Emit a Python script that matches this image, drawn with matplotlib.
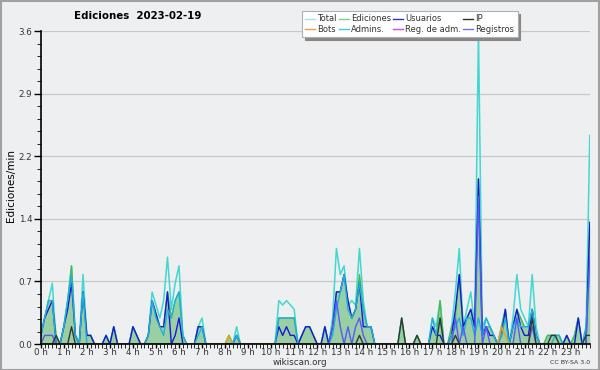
import matplotlib
matplotlib.use('Agg')
import matplotlib.pyplot as plt
import matplotlib.transforms as mtransforms
from matplotlib.patches import Rectangle
import numpy as np

# 10-minute samples, one row per hour (edits/min)
total = [
    0.1, 0.3, 0.5, 0.7, 0.0, 0.0,
    0.2, 0.5, 0.9, 0.1, 0.0, 0.8,
    0.1, 0.1, 0.0, 0.0, 0.0, 0.1,
    0.0, 0.2, 0.0, 0.0, 0.0, 0.0,
    0.2, 0.1, 0.0, 0.0, 0.1, 0.6,
    0.45, 0.3, 0.5, 1.0, 0.4, 0.7,
    0.9, 0.1, 0.0, 0.0, 0.0, 0.2,
    0.3, 0.0, 0.0, 0.0, 0.0, 0.0,
    0.0, 0.1, 0.0, 0.2, 0.0, 0.0,
    0.0, 0.0, 0.0, 0.0, 0.0, 0.0,
    0.0, 0.0, 0.5, 0.45, 0.5, 0.45,
    0.4, 0.0, 0.1, 0.2, 0.2, 0.1,
    0.0, 0.0, 0.2, 0.0, 0.3, 1.1,
    0.8, 0.9, 0.45, 0.5, 0.45, 1.1,
    0.5, 0.2, 0.2, 0.0, 0.0, 0.0,
    0.0, 0.0, 0.0, 0.0, 0.3, 0.0,
    0.0, 0.0, 0.1, 0.0, 0.0, 0.0,
    0.3, 0.2, 0.5, 0.0, 0.0, 0.2,
    0.6, 1.1, 0.2, 0.4, 0.6, 0.2,
    3.6, 0.2, 0.3, 0.2, 0.1, 0.0,
    0.2, 0.4, 0.0, 0.3, 0.8, 0.4,
    0.3, 0.2, 0.8, 0.2, 0.0, 0.0,
    0.1, 0.1, 0.1, 0.1, 0.0, 0.1,
    0.0, 0.1, 0.3, 0.0, 0.1, 2.4,
]
ediciones = [
    0.1, 0.3, 0.5, 0.5, 0.1, 0.0,
    0.2, 0.5, 0.9, 0.1, 0.0, 0.6,
    0.1, 0.1, 0.0, 0.0, 0.0, 0.1,
    0.0, 0.2, 0.0, 0.0, 0.0, 0.0,
    0.2, 0.1, 0.0, 0.0, 0.1, 0.5,
    0.35, 0.2, 0.2, 0.6, 0.3, 0.5,
    0.6, 0.1, 0.0, 0.0, 0.0, 0.2,
    0.2, 0.0, 0.0, 0.0, 0.0, 0.0,
    0.0, 0.1, 0.0, 0.1, 0.0, 0.0,
    0.0, 0.0, 0.0, 0.0, 0.0, 0.0,
    0.0, 0.0, 0.3, 0.3, 0.3, 0.3,
    0.3, 0.0, 0.1, 0.2, 0.2, 0.1,
    0.0, 0.0, 0.2, 0.0, 0.2, 0.6,
    0.6, 0.8, 0.5, 0.3, 0.4, 0.8,
    0.4, 0.2, 0.2, 0.0, 0.0, 0.0,
    0.0, 0.0, 0.0, 0.0, 0.3, 0.0,
    0.0, 0.0, 0.1, 0.0, 0.0, 0.0,
    0.2, 0.1, 0.5, 0.0, 0.0, 0.2,
    0.3, 0.8, 0.2, 0.3, 0.4, 0.2,
    1.9, 0.1, 0.2, 0.2, 0.1, 0.0,
    0.2, 0.4, 0.0, 0.2, 0.4, 0.3,
    0.2, 0.2, 0.4, 0.1, 0.0, 0.0,
    0.1, 0.1, 0.1, 0.1, 0.0, 0.1,
    0.0, 0.1, 0.3, 0.0, 0.1, 1.4,
]
usuarios = [
    0.1, 0.3, 0.4, 0.5, 0.0, 0.0,
    0.2, 0.4, 0.7, 0.1, 0.0, 0.6,
    0.1, 0.1, 0.0, 0.0, 0.0, 0.1,
    0.0, 0.2, 0.0, 0.0, 0.0, 0.0,
    0.2, 0.1, 0.0, 0.0, 0.1, 0.5,
    0.35, 0.2, 0.2, 0.6, 0.0, 0.1,
    0.3, 0.0, 0.0, 0.0, 0.0, 0.2,
    0.2, 0.0, 0.0, 0.0, 0.0, 0.0,
    0.0, 0.0, 0.0, 0.1, 0.0, 0.0,
    0.0, 0.0, 0.0, 0.0, 0.0, 0.0,
    0.0, 0.0, 0.2, 0.1, 0.2, 0.1,
    0.1, 0.0, 0.1, 0.2, 0.2, 0.1,
    0.0, 0.0, 0.2, 0.0, 0.2, 0.6,
    0.6, 0.8, 0.5, 0.3, 0.4, 0.7,
    0.2, 0.2, 0.2, 0.0, 0.0, 0.0,
    0.0, 0.0, 0.0, 0.0, 0.0, 0.0,
    0.0, 0.0, 0.0, 0.0, 0.0, 0.0,
    0.2, 0.1, 0.1, 0.0, 0.0, 0.1,
    0.4, 0.8, 0.2, 0.3, 0.4, 0.2,
    1.9, 0.1, 0.2, 0.1, 0.1, 0.0,
    0.1, 0.4, 0.0, 0.2, 0.4, 0.2,
    0.1, 0.1, 0.4, 0.1, 0.0, 0.0,
    0.0, 0.0, 0.0, 0.0, 0.0, 0.1,
    0.0, 0.0, 0.3, 0.0, 0.0, 1.4,
]
admins = [
    0.1, 0.3, 0.5, 0.5, 0.0, 0.0,
    0.2, 0.5, 0.8, 0.1, 0.0, 0.6,
    0.0, 0.0, 0.0, 0.0, 0.0, 0.0,
    0.0, 0.0, 0.0, 0.0, 0.0, 0.0,
    0.0, 0.0, 0.0, 0.0, 0.1, 0.5,
    0.3, 0.2, 0.1, 0.4, 0.3, 0.5,
    0.6, 0.1, 0.0, 0.0, 0.0, 0.1,
    0.2, 0.0, 0.0, 0.0, 0.0, 0.0,
    0.0, 0.0, 0.0, 0.1, 0.0, 0.0,
    0.0, 0.0, 0.0, 0.0, 0.0, 0.0,
    0.0, 0.0, 0.3, 0.3, 0.3, 0.3,
    0.3, 0.0, 0.0, 0.0, 0.0, 0.0,
    0.0, 0.0, 0.0, 0.0, 0.1, 0.4,
    0.6, 0.8, 0.4, 0.3, 0.4, 0.7,
    0.4, 0.2, 0.2, 0.0, 0.0, 0.0,
    0.0, 0.0, 0.0, 0.0, 0.0, 0.0,
    0.0, 0.0, 0.0, 0.0, 0.0, 0.0,
    0.3, 0.1, 0.3, 0.0, 0.0, 0.1,
    0.2, 0.3, 0.1, 0.3, 0.3, 0.1,
    0.3, 0.1, 0.3, 0.2, 0.1, 0.0,
    0.1, 0.3, 0.0, 0.2, 0.3, 0.2,
    0.2, 0.2, 0.4, 0.1, 0.0, 0.0,
    0.0, 0.0, 0.1, 0.1, 0.0, 0.0,
    0.0, 0.0, 0.0, 0.0, 0.2, 0.9,
]
ip = [0.0] * 144
for k, v in {4: 0.1, 8: 0.2, 83: 0.1, 94: 0.3, 98: 0.1, 104: 0.3, 108: 0.1,
             128: 0.3, 133: 0.1, 134: 0.1, 142: 0.1, 143: 0.1}.items():
    ip[k] = v
bots = [0.0] * 144
for k, v in {49: 0.1, 120: 0.2, 121: 0.1}.items():
    bots[k] = v
registros = [0.0] * 144
for k, v in {1: 0.1, 2: 0.1, 3: 0.1, 76: 0.2, 77: 0.5, 78: 0.2, 80: 0.2, 82: 0.2,
             83: 0.3, 84: 0.1, 108: 0.3, 110: 0.2, 114: 1.7, 116: 0.2, 124: 0.3,
             128: 0.2, 143: 1.0}.items():
    registros[k] = v
reg_adm = [0.0] * 144

hours = np.arange(144) / 6.0
hour_labels = [f'{h} h' for h in range(24)]
ytick_vals = [0, 0.72, 1.44, 2.16, 2.88, 3.6]
ytick_labels = ['0.0', '0.7', '1.4', '2.2', '2.9', '3.6']

BG = '#eeeff1'
fig = plt.figure(figsize=(6, 3.7), dpi=100, facecolor=BG)
ax = fig.add_axes([0.068, 0.070, 0.915, 0.846], facecolor=BG)

ax.fill_between(hours, ediciones, color='#6cbf78', alpha=0.65, lw=0, zorder=2)
ax.plot(hours, total, color='#40d8d0', lw=1.1, zorder=3)
ax.plot(hours, ediciones, color='#50b850', lw=1.0, zorder=3)
ax.plot(hours, usuarios, color='#1818d8', lw=1.0, zorder=4)
ax.plot(hours, admins, color='#20b0e0', lw=1.0, zorder=4)
ax.plot(hours, registros, color='#5858f8', lw=1.0, zorder=4)
ax.plot(hours, ip, color='#303830', lw=1.0, zorder=4)
ax.plot(hours, bots, color='#f0a020', lw=1.0, zorder=4)
ax.plot(hours, reg_adm, color='#d040d0', lw=1.0, zorder=1)

ax.set_xlim(0, hours[-1])
ax.set_ylim(0, 3.6)
ax.set_yticks(ytick_vals)
ax.set_yticklabels(ytick_labels)
ax.set_yticks(np.arange(0, 3.6001, 0.144), minor=True)
ax.set_xticks(range(24))
ax.set_xticklabels(hour_labels)
ax.set_xticks(hours, minor=True)
offset = mtransforms.ScaledTranslation(3 / 100, 0, fig.dpi_scale_trans)
for lab in ax.get_xticklabels():
    lab.set_ha('center')
    lab.set_transform(lab.get_transform() + offset)

ax.tick_params(axis='both', colors='black', labelcolor='#333333', labelsize=6.3, width=1)
ax.tick_params(axis='x', which='both', length=3, pad=0)
ax.tick_params(axis='y', which='major', length=5, pad=1)
ax.tick_params(axis='y', which='minor', length=3)
ax.grid(axis='y', color='#c8c8c8', lw=0.9, zorder=0)
for s in ['top', 'right']:
    ax.spines[s].set_visible(False)
for s in ['left', 'bottom']:
    ax.spines[s].set_linewidth(1.2)
    ax.spines[s].set_zorder(6)

fig.text(0.018, 0.5, 'Ediciones/min', fontsize=7.5, rotation=90, ha='center', va='center')
fig.text(0.124, 0.957, 'Ediciones  2023-02-19', fontsize=7.4, fontweight='bold', va='center')
fig.text(0.5, 0.020, 'wikiscan.org', fontsize=6.3, ha='center', va='center', color='#333333')
fig.text(0.983, 0.020, 'CC BY-SA 3.0', fontsize=4.5, ha='right', va='center', color='#333333')

handles = [
    plt.Line2D([], [], color='#a0e4e4', lw=1.0), plt.Line2D([], [], color='#f0a040', lw=1.0),
    plt.Line2D([], [], color='#80d080', lw=1.0), plt.Line2D([], [], color='#40c8e0', lw=1.0),
    plt.Line2D([], [], color='#3030d0', lw=1.0), plt.Line2D([], [], color='#d050d0', lw=1.0),
    plt.Line2D([], [], color='#303030', lw=1.0), plt.Line2D([], [], color='#7070e8', lw=1.0),
]
labels = ['Total', 'Bots', 'Ediciones', 'Admins.', 'Usuarios', 'Reg. de adm.', 'IP', 'Registros']
leg = fig.legend(handles, labels, ncol=4, loc='upper left', bbox_to_anchor=(0.503, 0.970),
                 fontsize=6.0, frameon=True, fancybox=False, shadow={'color': '#888888', 'alpha': 1},
                 handlelength=1.2, handletextpad=0.25, columnspacing=0.25, labelspacing=0.2,
                 borderpad=0.4, borderaxespad=0)
leg.get_frame().set_edgecolor('#b0b0b0')
leg.get_frame().set_linewidth(0.8)
for t in leg.get_texts():
    t.set_color('#333333')

fig.patches.append(Rectangle((0.001, 0.001), 0.997, 0.996, transform=fig.transFigure,
                             fill=False, edgecolor='#a0a0a0', lw=1.5))

fig.savefig('out.png', dpi=100, facecolor=BG)
